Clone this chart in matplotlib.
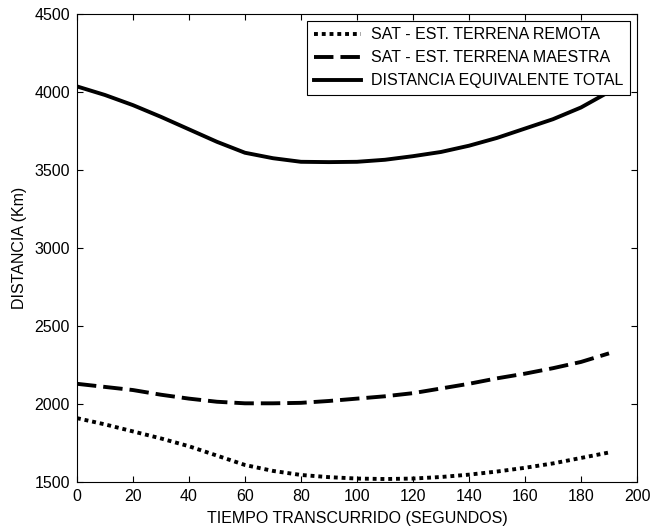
import numpy as np
import matplotlib.pyplot as plt

plt.rcParams['font.family'] = ['Liberation Sans', 'DejaVu Sans']

# tiempo (s)
tiempo = [0, 10, 20, 30, 40, 50, 60, 70, 80, 90, 100,
          110, 120, 130, 140, 150, 160, 170, 180, 190]

# distancias (Km)
remota = [1910, 1870, 1825, 1780, 1730, 1670, 1610, 1572, 1546, 1532, 1523,
          1520, 1523, 1533, 1548, 1568, 1592, 1620, 1655, 1690]
maestra = [2130, 2110, 2090, 2060, 2035, 2015, 2005, 2005, 2008, 2020, 2035,
           2050, 2070, 2100, 2130, 2165, 2195, 2230, 2270, 2325]
total = [4035, 3980, 3915, 3840, 3760, 3680, 3610, 3575, 3552, 3550, 3552,
         3565, 3588, 3615, 3655, 3705, 3765, 3825, 3900, 4000]

labels = ['SAT - EST. TERRENA REMOTA', 'SAT - EST. TERRENA MAESTRA',
          'DISTANCIA EQUIVALENTE TOTAL']

fig = plt.figure(figsize=(6.52, 5.31), dpi=100)
ax = fig.add_axes([0.118, 0.092, 0.859, 0.882])

ax.plot(tiempo, remota, color='black', lw=2.8, dashes=(1, 1.0), label=labels[0])
ax.plot(tiempo, maestra, color='black', lw=2.8, dashes=(5, 1.8), label=labels[1])
ax.plot(tiempo, total, color='black', lw=2.8, label=labels[2])

ax.set_xlim(0, 200)
ax.set_ylim(1500, 4500)
ax.set_xticks(np.arange(0, 201, 20))
ax.set_yticks(np.arange(1500, 4501, 500))
ax.tick_params(direction='in', top=True, right=True, labelsize=11.5, length=4,
               color='black', pad=5)
for s in ax.spines.values():
    s.set_linewidth(0.8)

ax.set_xlabel('TIEMPO TRANSCURRIDO (SEGUNDOS)', fontsize=11.5, labelpad=5)
ax.set_ylabel('DISTANCIA (Km)', fontsize=11.5, labelpad=5)

leg = ax.legend(loc='upper right', fontsize=11.5, fancybox=False,
                edgecolor='black', framealpha=1, handlelength=3.0,
                borderaxespad=0.45, labelspacing=0.5, handletextpad=0.6)
leg.get_frame().set_linewidth(0.8)

plt.savefig('out.png', dpi=100)
